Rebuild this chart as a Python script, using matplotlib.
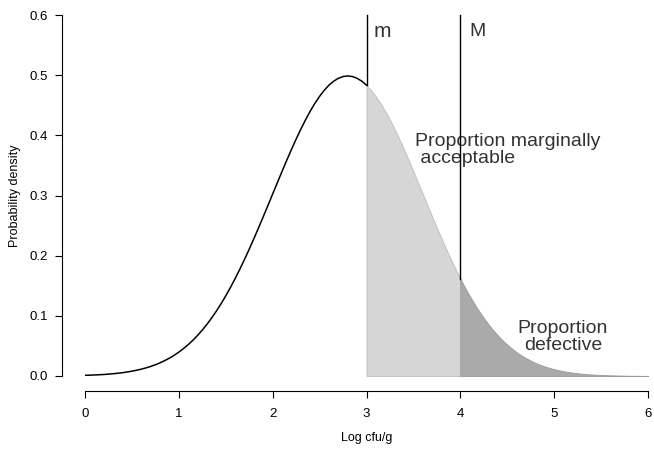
import numpy as np
import matplotlib
matplotlib.use('Agg')
import matplotlib.pyplot as plt

# 对数菌落数的概率密度，以及 m / M 两个界限
plt.rcParams['font.family'] = ['Liberation Sans', 'DejaVu Sans']

x = np.round(np.arange(0, 6.001, 0.05), 2)
dens = [0.0011, 0.0014, 0.0017, 0.0021, 0.0025, 0.0031, 0.0038, 0.0046, 0.0055, 0.0067,
        0.0080, 0.0096, 0.0114, 0.0135, 0.0159, 0.0187, 0.0219, 0.0256, 0.0297, 0.0344,
        0.0397, 0.0456, 0.0522, 0.0594, 0.0675, 0.0763, 0.0860, 0.0965, 0.1079, 0.1201,
        0.1332, 0.1471, 0.1619, 0.1775, 0.1938, 0.2107, 0.2283, 0.2464, 0.2649, 0.2836,
        0.3025, 0.3213, 0.3401, 0.3585, 0.3764, 0.3937, 0.4102, 0.4257, 0.4401, 0.4532,
        0.4648, 0.4749, 0.4834, 0.4900, 0.4948, 0.4977, 0.4987,
        0.4977, 0.4948, 0.4900, 0.4834, 0.4749, 0.4648, 0.4532, 0.4401, 0.4257, 0.4102,
        0.3937, 0.3764, 0.3585, 0.3401, 0.3213, 0.3025, 0.2836, 0.2649, 0.2464, 0.2283,
        0.2107, 0.1938, 0.1775, 0.1619, 0.1471, 0.1332, 0.1201, 0.1079, 0.0965, 0.0860,
        0.0763, 0.0675, 0.0594, 0.0522, 0.0456, 0.0397, 0.0344, 0.0297, 0.0256, 0.0219,
        0.0187, 0.0159, 0.0135, 0.0114, 0.0096, 0.0080, 0.0067, 0.0055, 0.0046, 0.0038,
        0.0031, 0.0025, 0.0021, 0.0017, 0.0014, 0.0011, 0.0009, 0.0007, 0.0006, 0.0004,
        0.0004, 0.0003, 0.0002, 0.0002]
dens = np.array(dens)
m_lim, M_lim = 3.0, 4.0

fig = plt.figure(figsize=(6.54, 4.5), dpi=100)
ax = fig.add_axes([85/654, 74/450, 563/654, 361/450])

mid = (x >= m_lim) & (x <= M_lim)
tail = x >= M_lim
ax.fill_between(x[mid], 0, dens[mid], color='#d6d6d6', edgecolor='#bbbbbb', lw=0.6)
ax.fill_between(x[tail], 0, dens[tail], color='#aaaaaa', edgecolor='#999999', lw=0.6)
left = x <= m_lim
ax.plot(x[left], dens[left], color='black', lw=1.1)

ax.plot([m_lim, m_lim], [dens[x == m_lim][0], 0.6], color='black', lw=1,
        clip_on=False, zorder=4)
ax.plot([M_lim, M_lim], [dens[x == M_lim][0], 0.6], color='black', lw=1,
        clip_on=False, zorder=4)

ax.text(3.08, 0.572, 'm', fontsize=15, color='#333333', va='center')
ax.text(4.1, 0.572, 'M', fontsize=14, color='#333333', va='center')
ax.text(3.517, 0.376, 'Proportion marginally\n acceptable', fontsize=14,
        color='#333333', va='center', linespacing=1.0)
ax.text(5.094, 0.065, 'Proportion\ndefective', fontsize=14, color='#333333',
        va='center', ha='center', linespacing=1.0)

ax.set_xlim(0, 6)
ax.set_ylim(0, 0.6)
ax.set_xticks([0, 1, 2, 3, 4, 5, 6])
ax.set_yticks([0, 0.1, 0.2, 0.3, 0.4, 0.5, 0.6])
ax.set_yticklabels(['0.0', '0.1', '0.2', '0.3', '0.4', '0.5', '0.6'])
for s in ['top', 'right']:
    ax.spines[s].set_visible(False)
ax.spines['left'].set_position(('outward', 16.5))
ax.spines['bottom'].set_position(('outward', 10.7))
ax.spines['left'].set_bounds(0, 0.6)
ax.spines['bottom'].set_bounds(0, 6)
ax.spines['left'].set_linewidth(0.8)
ax.spines['bottom'].set_linewidth(0.8)
ax.tick_params(length=5, width=0.8, labelsize=9.5)
ax.tick_params(axis='x', pad=7)
ax.tick_params(axis='y', pad=5)
ax.set_xlabel('Log cfu/g', fontsize=9, labelpad=9)
ax.set_ylabel('Probability density', fontsize=9, labelpad=6)

plt.savefig('out.png', dpi=100)
